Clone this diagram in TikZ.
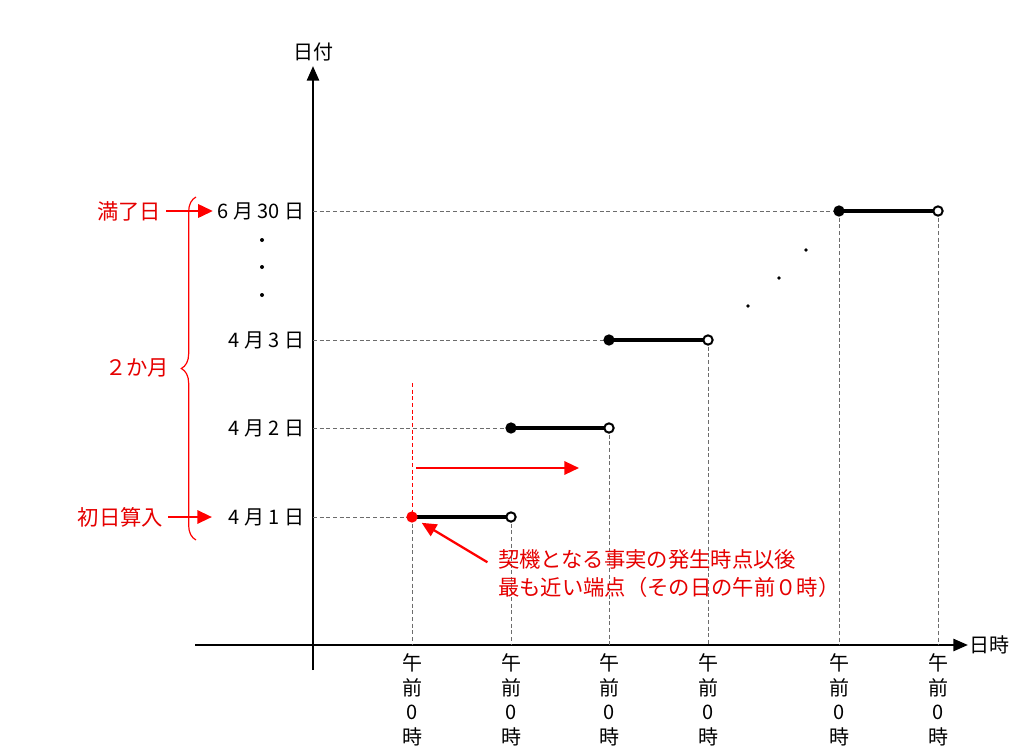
\documentclass[tikz,border=0pt]{standalone}
\usepackage{fontspec}
\setmainfont{Noto Sans CJK JP}
\usetikzlibrary{arrows.meta,decorations.pathreplacing}

\begin{document}
\begin{tikzpicture}[x=0.75pt,y=-0.75pt,
    axis/.style={line width=2pt,-{Triangle[length=11pt,width=9pt]}},
    guide/.style={densely dashed,gray!85!black,line width=0.5pt},
    stepline/.style={line width=2.3pt},
    closedpt/.style={circle,fill,inner sep=0pt,minimum size=8.5pt},
    openpt/.style={circle,draw,fill=white,line width=1.5pt,inner sep=0pt,minimum size=7pt},
    lbl/.style={font=\fontsize{15}{18}\selectfont},
    note/.style={font=\fontsize{16}{21}\selectfont,red!90!black},
    redarrow/.style={red,line width=1.7pt,-{Triangle[length=11pt,width=10pt]}}]
      \useasboundingbox (0,0) rectangle (1024,753);
      % axes
      \coordinate (o1) at (195,645);
      \coordinate (o2) at (968,645);
      \coordinate (v1) at (313,670);
      \coordinate (v2) at (313,66);
      \draw[axis] (o1) -- (o2);
      \draw[axis] (v1) -- (v2);
      \node[lbl,anchor=south] (yname) at (v2) {日付};
      \node[lbl,anchor=west,inner sep=1pt] (xname) at (o2) {日時};
      % points of the step line
      \coordinate (a1) at (412,517); \coordinate (b1) at (511,517);
      \coordinate (a2) at (511,428); \coordinate (b2) at (609,428);
      \coordinate (a3) at (609,340); \coordinate (b3) at (708,340);
      \coordinate (a4) at (839,211); \coordinate (b4) at (938,211);
      % guides to the axes
      \draw[guide] (313,517) -- (a1);
      \draw[guide] (313,428) -- (a2);
      \draw[guide] (313,340) -- (a3);
      \draw[guide] (313,211) -- (a4);
      \draw[guide] (a1) -- (412,645);
      \draw[guide] (b1) -- (511,645);
      \draw[guide] (b2) -- (609,645);
      \draw[guide] (b3) -- (708,645);
      \draw[guide] (a4) -- (839,645);
      \draw[guide] (b4) -- (938,645);
      \draw[guide,red] (412,383) -- (a1);
      % steps
      \draw[stepline] (a1) -- (b1);
      \draw[stepline] (a2) -- (b2);
      \draw[stepline] (a3) -- (b3);
      \draw[stepline] (a4) -- (b4);
      \node[closedpt,red] (p1) at (a1) {};
      \node[openpt] (q1) at (b1) {};
      \node[closedpt] (p2) at (a2) {};
      \node[openpt] (q2) at (b2) {};
      \node[closedpt] (p3) at (a3) {};
      \node[openpt] (q3) at (b3) {};
      \node[closedpt] (p4) at (a4) {};
      \node[openpt] (q4) at (b4) {};
      \fill (748,306) circle (1.8);
      \fill (779,278) circle (1.8);
      \fill (806,250) circle (1.8);
      % date labels
      \node[lbl,anchor=east] (d1) at (309,517) {4 月 1 日};
      \node[lbl,anchor=east] (d2) at (309,428) {4 月 2 日};
      \node[lbl,anchor=east] (d3) at (309,340) {4 月 3 日};
      \node[lbl,anchor=east] (d4) at (309,211) {6 月 30 日};
      \fill (262,240) circle (2);
      \fill (262,267) circle (2);
      \fill (262,295) circle (2);
      % time labels
      \foreach \x/\n in {412/1,511/2,609/3,708/4,839/5,938/6}
        \node[lbl,anchor=north,align=center,font=\fontsize{15}{18.4}\selectfont] (t\n) at (\x,649) {午\\前\\0\\時};
      % red notes
      \node[note,anchor=east] (start) at (168,517) {初日算入};
      \node[note,anchor=east] (end) at (166,211) {満了日};
      \node[note,anchor=east] (span) at (174,368) {２か月};
      \draw[redarrow,shorten >=9pt] (start) -- (d1);
      \draw[redarrow,shorten >=0pt] (end) -- (d4);
      \draw[red,line width=0.9pt,decorate,decoration={brace,amplitude=11pt}] (196,540) -- (196,197);
      \coordinate (h1) at (416,468);
      \coordinate (h2) at (579,468);
      \draw[redarrow] (h1) -- (h2);
      \node[note,anchor=north west,align=left,inner sep=0pt] (cause) at (498,549) {契機となる事実の発生時点以後\\最も近い端点（その日の午前０時）};
      \draw[redarrow,shorten <=4pt,shorten >=4pt] (cause.north west) ++(-6,16) coordinate (c1) -- (p1);
    \end{tikzpicture}
\end{document}
